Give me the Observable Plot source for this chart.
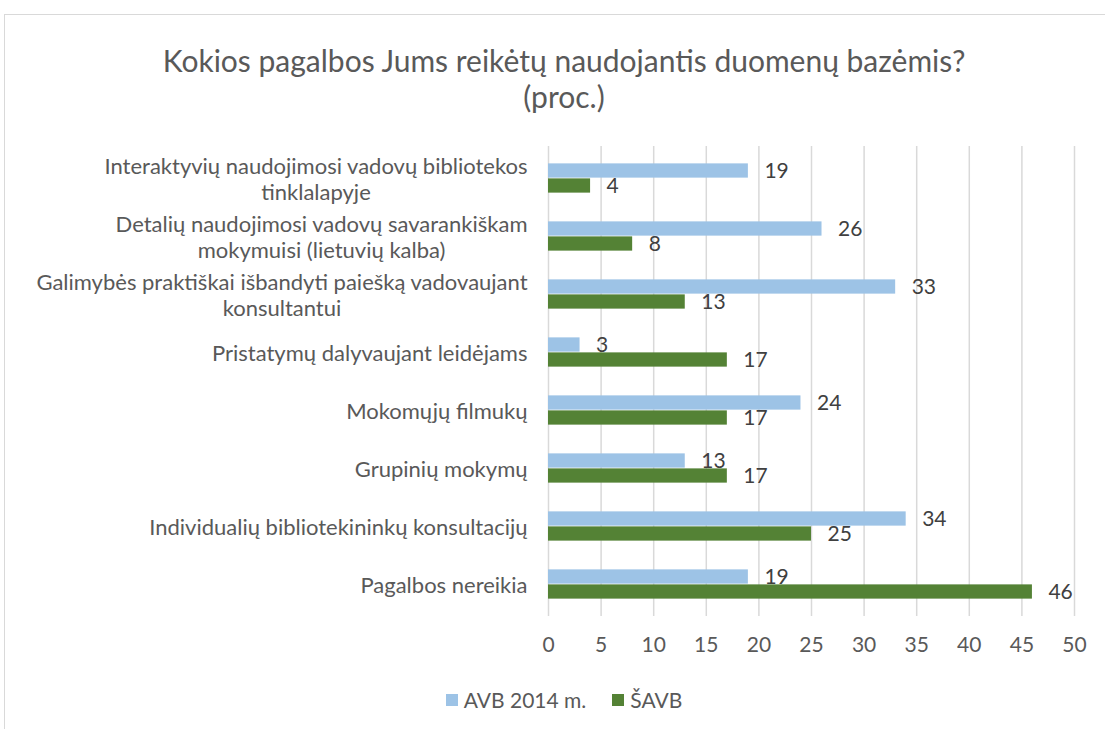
<!DOCTYPE html>
<html><head><meta charset="utf-8">
<script src="https://cdn.jsdelivr.net/npm/d3@7"></script>
<script src="https://cdn.jsdelivr.net/npm/@observablehq/plot@0.6"></script>
<style>
body{margin:0;background:#fff;font-family:Lato,"Open Sans",sans-serif;width:1105px;height:729px;overflow:hidden;position:relative}
#frame{position:absolute;left:4px;top:14px;width:1130px;height:730px;border:1px solid #d9d9d9;box-sizing:border-box}
#title{position:absolute;left:4px;width:1120px;top:42px;text-align:center;color:#595959;font-size:30px;line-height:36px;font-weight:400}
#chart{position:absolute;left:0;top:120px}
#legend{position:absolute;left:4px;width:1120px;top:688px;display:flex;justify-content:center;gap:26px;color:#595959;font-size:21px;line-height:24px}
#legend .it{display:flex;align-items:center;gap:6px}
#legend .sw{width:12px;height:12px;display:inline-block}
</style></head>
<body>
<div id="frame"></div>
<div id="title">Kokios pagalbos Jums reikėtų naudojantis duomenų bazėmis?<br>(proc.)</div>
<div id="chart"></div>
<div id="legend"></div>
<script>
const categories = [
  "Interaktyvių naudojimosi vadovų bibliotekos tinklalapyje",
  "Detalių naudojimosi vadovų savarankiškam mokymuisi (lietuvių kalba)",
  "Galimybės praktiškai išbandyti paiešką vadovaujant konsultantui",
  "Pristatymų dalyvaujant leidėjams",
  "Mokomųjų filmukų",
  "Grupinių mokymų",
  "Individualių bibliotekininkų konsultacijų",
  "Pagalbos nereikia"
];
const categoryLabels = [
  "Interaktyvių naudojimosi vadovų bibliotekos\ntinklalapyje",
  "Detalių naudojimosi vadovų savarankiškam\nmokymuisi (lietuvių kalba)",
  "Galimybės praktiškai išbandyti paiešką vadovaujant\nkonsultantui",
  "Pristatymų dalyvaujant leidėjams",
  "Mokomųjų filmukų",
  "Grupinių mokymų",
  "Individualių bibliotekininkų konsultacijų",
  "Pagalbos nereikia"
];
const seriesNames = ["AVB 2014 m.", "ŠAVB"];
const avb2014 = [19, 26, 33, 3, 24, 13, 34, 19];
const savb = [4, 8, 13, 17, 17, 17, 25, 46];
const xTicks = [0, 5, 10, 15, 20, 25, 30, 35, 40, 45, 50];
const colors = ["#9dc3e6", "#548235"];

const rowsA = categories.map((c, i) => ({cat: c, v: avb2014[i], s: seriesNames[0]}));
const rowsB = categories.map((c, i) => ({cat: c, v: savb[i], s: seriesNames[1]}));
const labelOf = new Map(categories.map((c, i) => [c, categoryLabels[i]]));

const W = 1105, H = 560, mT = 26, mB = 64, mL = 548, mR = 31;
const step = (H - mT - mB) / categories.length;
const half = step / 2, barH = 15;

const chart = Plot.plot({
  width: W, height: H,
  marginTop: mT, marginBottom: mB, marginLeft: mL, marginRight: mR,
  style: {fontFamily: "Lato, 'Open Sans', sans-serif", fontSize: "21px", color: "#595959", background: "transparent"},
  x: {domain: [0, 50], label: null},
  y: {domain: categories, padding: 0, label: null},
  marks: [
    Plot.gridX(xTicks, {stroke: "#d9d9d9", strokeOpacity: 1, strokeWidth: 1.5}),
    Plot.axisX({ticks: xTicks, tickSize: 0, tickPadding: 21, fontSize: 21, fill: "#595959", label: null}),
    Plot.axisY({tickSize: 0, tickPadding: 21, fontSize: 22, lineHeight: 1.2, fill: "#595959", label: null, tickFormat: d => labelOf.get(d)}),
    Plot.barX(rowsA, {x: "v", y: "cat", fill: colors[0], insetTop: half - barH, insetBottom: half}),
    Plot.barX(rowsB, {x: "v", y: "cat", fill: colors[1], insetTop: half, insetBottom: half - barH}),
    Plot.text(rowsA, {x: "v", y: "cat", text: d => String(d.v), dy: -barH / 2, dx: 16, textAnchor: "start", fill: "#404040", fontSize: 21}),
    Plot.text(rowsB, {x: "v", y: "cat", text: d => String(d.v), dy: barH / 2, dx: 16, textAnchor: "start", fill: "#404040", fontSize: 21})
  ]
});
document.getElementById("chart").appendChild(chart);

// center multi-line category labels within their block (right-aligned block)
chart.querySelectorAll('g[aria-label="y-axis tick label"] text').forEach(t => {
  const sp = t.querySelectorAll("tspan");
  if (sp.length > 1) {
    const b = t.getBBox();
    t.setAttribute("text-anchor", "middle");
    sp.forEach(s => s.setAttribute("x", b.x + b.width / 2));
  }
});

const leg = document.getElementById("legend");
seriesNames.forEach((n, i) => {
  const it = document.createElement("div"); it.className = "it";
  const sw = document.createElement("span"); sw.className = "sw"; sw.style.background = colors[i];
  const tx = document.createElement("span"); tx.textContent = n;
  it.appendChild(sw); it.appendChild(tx); leg.appendChild(it);
});
</script>
</body></html>
